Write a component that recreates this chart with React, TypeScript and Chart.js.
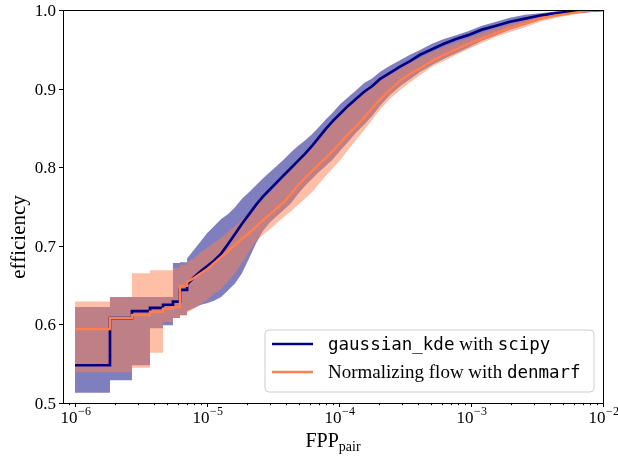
import React, { useEffect, useRef } from "react";
import { Chart, registerables } from "chart.js";

Chart.register(...registerables);

// FPP_pair values (x)
const fpp = [1e-6, 1.84e-6, 2.7e-6, 3.7e-6, 4.64e-6, 5.52e-6, 6.24e-6, 7.06e-6, 7.97e-6, 9.0e-6,
  1.0e-5, 1.13e-5, 1.28e-5, 1.44e-5, 1.63e-5, 1.84e-5, 2.08e-5, 2.35e-5, 2.66e-5, 3.0e-5,
  3.39e-5, 3.83e-5, 4.33e-5, 4.89e-5, 5.52e-5, 6.24e-5, 7.05e-5, 7.97e-5, 9.0e-5, 1.02e-4,
  1.17e-4, 1.35e-4, 1.55e-4, 1.78e-4, 2.04e-4, 2.43e-4, 2.9e-4, 3.45e-4, 4.11e-4, 5.06e-4,
  6.24e-4, 7.7e-4, 9.5e-4, 1.21e-3, 1.55e-3, 1.97e-3, 2.57e-3, 3.33e-3, 4.4e-3, 5.82e-3,
  7.7e-3, 1e-2];

// gaussian_kde with scipy
const kdeMid = [0.548, 0.608, 0.617, 0.621, 0.625, 0.629, 0.644, 0.651, 0.660, 0.668,
  0.674, 0.681, 0.690, 0.702, 0.715, 0.728, 0.740, 0.752, 0.763, 0.772,
  0.781, 0.790, 0.799, 0.808, 0.817, 0.827, 0.838, 0.849, 0.859, 0.868,
  0.878, 0.887, 0.896, 0.903, 0.912, 0.920, 0.928, 0.935, 0.943, 0.950,
  0.957, 0.963, 0.968, 0.975, 0.980, 0.985, 0.989, 0.993, 0.996, 0.998,
  0.999, 1.0];
const kdeLo = [0.513, 0.529, 0.548, 0.595, 0.599, 0.608, 0.612, 0.617, 0.621, 0.625,
  0.627, 0.630, 0.635, 0.643, 0.652, 0.665, 0.684, 0.703, 0.719, 0.730,
  0.738, 0.746, 0.754, 0.766, 0.776, 0.785, 0.794, 0.802, 0.810, 0.821,
  0.832, 0.844, 0.854, 0.865, 0.878, 0.892, 0.903, 0.912, 0.921, 0.930,
  0.938, 0.945, 0.952, 0.961, 0.968, 0.975, 0.981, 0.987, 0.992, 0.996,
  0.998, 1.0];
const kdeHi = [0.622, 0.635, 0.635, 0.635, 0.635, 0.678, 0.679, 0.684, 0.695, 0.706,
  0.716, 0.725, 0.734, 0.740, 0.749, 0.760, 0.768, 0.777, 0.786, 0.794,
  0.802, 0.810, 0.819, 0.827, 0.834, 0.842, 0.851, 0.861, 0.870, 0.880,
  0.889, 0.898, 0.907, 0.913, 0.921, 0.929, 0.936, 0.943, 0.949, 0.957,
  0.963, 0.968, 0.973, 0.980, 0.985, 0.990, 0.994, 0.996, 0.998, 0.999,
  1.0, 1.0];

// Normalizing flow with denmarf
const flowMid = [0.594, 0.608, 0.612, 0.616, 0.620, 0.622, 0.649, 0.654, 0.659, 0.665,
  0.670, 0.678, 0.686, 0.693, 0.701, 0.709, 0.716, 0.724, 0.733, 0.740,
  0.748, 0.756, 0.766, 0.777, 0.786, 0.795, 0.804, 0.812, 0.821, 0.831,
  0.842, 0.852, 0.863, 0.875, 0.886, 0.898, 0.910, 0.919, 0.926, 0.935,
  0.943, 0.950, 0.957, 0.964, 0.971, 0.977, 0.983, 0.989, 0.993, 0.996,
  0.999, 1.0];
const flowLo = [0.539, 0.539, 0.545, 0.564, 0.603, 0.608, 0.611, 0.615, 0.620, 0.626,
  0.631, 0.639, 0.645, 0.655, 0.665, 0.678, 0.692, 0.706, 0.714, 0.721,
  0.729, 0.737, 0.744, 0.752, 0.760, 0.768, 0.779, 0.789, 0.799, 0.809,
  0.822, 0.835, 0.847, 0.860, 0.873, 0.887, 0.898, 0.908, 0.917, 0.928,
  0.935, 0.943, 0.950, 0.958, 0.966, 0.972, 0.978, 0.985, 0.990, 0.994,
  0.997, 0.999];
const flowHi = [0.629, 0.635, 0.665, 0.669, 0.669, 0.672, 0.676, 0.679, 0.684, 0.692,
  0.697, 0.704, 0.710, 0.718, 0.725, 0.733, 0.742, 0.751, 0.760, 0.768,
  0.777, 0.788, 0.798, 0.808, 0.818, 0.828, 0.837, 0.847, 0.858, 0.866,
  0.877, 0.886, 0.894, 0.902, 0.911, 0.917, 0.925, 0.933, 0.939, 0.947,
  0.953, 0.959, 0.964, 0.971, 0.977, 0.982, 0.987, 0.992, 0.996, 0.998,
  0.999, 1.0];

const yTicks = [0.5, 0.6, 0.7, 0.8, 0.9, 1.0];
const yTickLabels = ["0.5", "0.6", "0.7", "0.8", "0.9", "1.0"];
const xTickExps = [-6, -5, -4, -3, -2];
const xMin = 8.11e-7;
const xMax = 1e-2;
// up to this FPP the curves are drawn as explicit stairs
const stepUntil = 6.24e-6;

const NAVY = "#000080";
const CORAL = "#FF7F50";
const NAVY_BAND = "rgba(0,0,128,0.5)";
const CORAL_BAND = "rgba(255,127,80,0.5)";
const SERIF = '"Liberation Serif", "Times New Roman", serif';
const MONO = '"DejaVu Sans Mono", monospace';

type Seg = { t: string; mono: boolean };
const legendItems: { color: string; segs: Seg[] }[] = [
  { color: NAVY, segs: [{ t: "gaussian_kde", mono: true }, { t: " with ", mono: false }, { t: "scipy", mono: true }] },
  { color: CORAL, segs: [{ t: "Normalizing flow with ", mono: false }, { t: "denmarf", mono: true }] },
];

const pts = (ys: number[]) => {
  const out: { x: number; y: number }[] = [];
  for (let i = 0; i < fpp.length; i++) {
    out.push({ x: fpp[i], y: ys[i] });
    if (fpp[i] <= stepUntil && i + 1 < fpp.length) out.push({ x: fpp[i + 1], y: ys[i] });
  }
  return out;
};

const decorPlugin = {
  id: "decor",
  afterDraw(chart: any) {
    const ctx: CanvasRenderingContext2D = chart.ctx;
    const { left, right, top, bottom } = chart.chartArea;
    const xs = chart.scales.x;
    const ys = chart.scales.y;
    ctx.save();
    ctx.strokeStyle = "#000";
    ctx.lineWidth = 1;
    ctx.strokeRect(Math.round(left) + 0.5, Math.round(top) + 0.5, Math.round(right - left), Math.round(bottom - top));

    ctx.fillStyle = "#000";
    ctx.font = `17px ${SERIF}`;
    ctx.textAlign = "right";
    ctx.textBaseline = "middle";
    yTicks.forEach((v, i) => {
      const py = Math.round(ys.getPixelForValue(v)) + 0.5;
      ctx.beginPath();
      ctx.moveTo(left - 4, py);
      ctx.lineTo(left, py);
      ctx.stroke();
      ctx.fillText(yTickLabels[i], left - 7, py + 1);
    });

    for (let d = -7; d <= -3; d++) {
      for (let k = 2; k <= 9; k++) {
        const v = k * Math.pow(10, d);
        if (v < xMin || v > xMax) continue;
        const px = Math.round(xs.getPixelForValue(v)) + 0.5;
        ctx.beginPath();
        ctx.moveTo(px, bottom);
        ctx.lineTo(px, bottom + 2.2);
        ctx.stroke();
      }
    }
    xTickExps.forEach((e) => {
      const px = Math.round(xs.getPixelForValue(Math.pow(10, e))) + 0.5;
      ctx.beginPath();
      ctx.moveTo(px, bottom);
      ctx.lineTo(px, bottom + 4);
      ctx.stroke();
      const base = "10";
      const sup = "\u2212" + Math.abs(e);
      ctx.font = `17px ${SERIF}`;
      const wb = ctx.measureText(base).width;
      ctx.font = `12px ${SERIF}`;
      const ws = ctx.measureText(sup).width;
      const x0 = px - (wb + ws) / 2;
      ctx.textAlign = "left";
      ctx.textBaseline = "alphabetic";
      ctx.font = `17px ${SERIF}`;
      ctx.fillText(base, x0, bottom + 20);
      ctx.font = `12px ${SERIF}`;
      ctx.fillText(sup, x0 + wb + 0.5, bottom + 12);
    });

    ctx.font = `20px ${SERIF}`;
    const wF = ctx.measureText("FPP").width;
    ctx.font = `14px ${SERIF}`;
    const wP = ctx.measureText("pair").width;
    const cx = (left + right) / 2;
    const lx = cx - (wF + wP) / 2;
    ctx.font = `20px ${SERIF}`;
    ctx.fillText("FPP", lx, 447);
    ctx.font = `14px ${SERIF}`;
    ctx.fillText("pair", lx + wF, 451);

    ctx.save();
    ctx.translate(25, 237);
    ctx.rotate(-Math.PI / 2);
    ctx.font = `21px ${SERIF}`;
    ctx.textAlign = "center";
    ctx.textBaseline = "alphabetic";
    ctx.fillText("efficiency", 0, 0);
    ctx.restore();

    const bx = 265, by = 330, bw = 329, bh = 62, r = 4;
    ctx.beginPath();
    ctx.moveTo(bx + r, by);
    ctx.lineTo(bx + bw - r, by);
    ctx.arcTo(bx + bw, by, bx + bw, by + r, r);
    ctx.lineTo(bx + bw, by + bh - r);
    ctx.arcTo(bx + bw, by + bh, bx + bw - r, by + bh, r);
    ctx.lineTo(bx + r, by + bh);
    ctx.arcTo(bx, by + bh, bx, by + bh - r, r);
    ctx.lineTo(bx, by + r);
    ctx.arcTo(bx, by, bx + r, by, r);
    ctx.closePath();
    ctx.fillStyle = "rgba(255,255,255,0.8)";
    ctx.fill();
    ctx.strokeStyle = "#cccccc";
    ctx.lineWidth = 1;
    ctx.stroke();

    legendItems.forEach((it, i) => {
      const yy = by + 14 + i * 28;
      ctx.strokeStyle = it.color;
      ctx.lineWidth = 2.6;
      ctx.beginPath();
      ctx.moveTo(272, yy);
      ctx.lineTo(313, yy);
      ctx.stroke();
      let tx = 328;
      ctx.fillStyle = "#000";
      ctx.textAlign = "left";
      ctx.textBaseline = "alphabetic";
      it.segs.forEach((s) => {
        ctx.font = s.mono ? `17.5px ${MONO}` : `19px ${SERIF}`;
        ctx.fillText(s.t, tx, yy + 6);
        tx += ctx.measureText(s.t).width;
      });
    });
    ctx.restore();
  },
};

export default function App() {
  const ref = useRef<HTMLCanvasElement | null>(null);
  useEffect(() => {
    if (!ref.current) return;
    const band = (data: number[], color: string | null) => ({
      data: pts(data),
      borderWidth: 0,
      pointRadius: 0,
      tension: 0,
      fill: color ? "-1" : false,
      backgroundColor: color || "transparent",
      borderColor: "transparent",
    });
    const line = (data: number[], color: string, w: number) => ({
      data: pts(data),
      borderWidth: w,
      borderColor: color,
      pointRadius: 0,
      tension: 0,
      borderJoinStyle: "miter" as const,
      fill: false,
    });
    const chart = new Chart(ref.current, {
      type: "line",
      data: {
        datasets: [
          band(flowLo, null),
          band(flowHi, CORAL_BAND),
          band(kdeLo, null),
          band(kdeHi, NAVY_BAND),
          line(flowMid, CORAL, 2.4),
          line(kdeMid, NAVY, 2.7),
        ] as any,
      },
      options: {
        animation: false,
        responsive: false,
        devicePixelRatio: 1,
        layout: { padding: { left: 63, right: 15, top: 10, bottom: 54 } },
        scales: {
          x: { type: "logarithmic", min: xMin, max: xMax, display: false },
          y: { type: "linear", min: 0.5, max: 1.0, display: false },
        },
        plugins: {
          legend: { display: false },
          tooltip: { enabled: false },
          filler: { propagate: false, drawTime: "beforeDatasetsDraw" },
        } as any,
        events: [],
      },
      plugins: [decorPlugin],
    });
    return () => chart.destroy();
  }, []);
  return (
    <div style={{ position: "fixed", left: 0, top: 0, width: 618, height: 457, background: "#fff" }}>
      <canvas ref={ref} width={618} height={457} style={{ display: "block", width: 618, height: 457 }} />
    </div>
  );
}
